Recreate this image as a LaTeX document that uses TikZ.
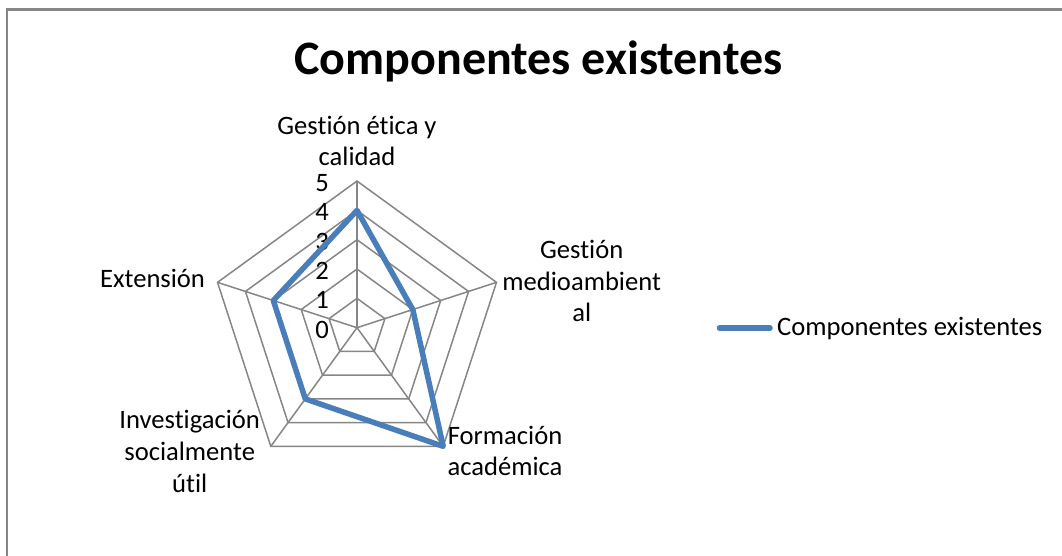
\documentclass[tikz,border=0pt]{standalone}
\usepackage{fontspec}
\setmainfont{Carlito}[Ligatures=NoCommon]
\definecolor{gris}{HTML}{868686}
\definecolor{azul}{HTML}{4A7EBB}
\begin{document}
\begin{tikzpicture}[x=1pt,y=1pt,
  rejilla/.style={draw=gris,line width=1.5pt},
  serie/.style={draw=azul,line width=5.5pt,line join=round,line cap=round},
  eje/.style={inner sep=0,align=center,font=\fontsize{26.6}{31.7}\selectfont}]
\clip (0,0) rectangle (1062,556);
% marco del grafico
\draw[gris,line width=2.2pt] (7,-10) -- (7,546.5) -- (1080,546.5);
\node[inner sep=0,anchor=base,font=\bfseries\fontsize{48}{58}\selectfont] (titulo) at (538.5,481.5) {Componentes existentes};
\begin{scope}[shift={(357,228.3)},x=29.33pt,y=29.33pt]
\foreach \r in {1,...,5}
  \draw[rejilla] (90:\r) -- (18:\r) -- (-54:\r) -- (-126:\r) -- (162:\r) -- cycle;
\foreach \a in {90,18,-54,-126,162}
  \draw[rejilla] (0,0) -- (\a:5);
\foreach \n in {0,...,5}
  \node[eje,anchor=east] (n\n) at (-0.95,\n-0.07) {\n};
% serie
\coordinate (etica) at (90:4);
\coordinate (medio) at (18:2);
\coordinate (formacion) at (-54:5);
\coordinate (investigacion) at (-126:3);
\coordinate (extension) at (162:3);
\draw[serie] (etica) -- (medio) -- (formacion) -- (investigacion) -- (extension) -- cycle;
\end{scope}
\node[eje] (lEtica) at (357,415) {Gestión ética y\\calidad};
\node[eje] (lMedio) at (581.7,275) {Gestión\\medioambient\\al};
\node[eje] (lFormacion) at (505,105) {Formación\\académica};
\node[eje] (lInvestigacion) at (189.7,104.6) {Investigación\\socialmente\\útil};
\node[eje,anchor=base] (lExtension) at (152.5,268.7) {Extensión};
% leyenda
\coordinate (leyA) at (719.5,228);
\coordinate (leyB) at (770,228);
\draw[serie] (leyA) -- (leyB);
\node[eje,anchor=base west] (leyenda) at (777,220.3) {Componentes existentes};
\end{tikzpicture}
\end{document}
